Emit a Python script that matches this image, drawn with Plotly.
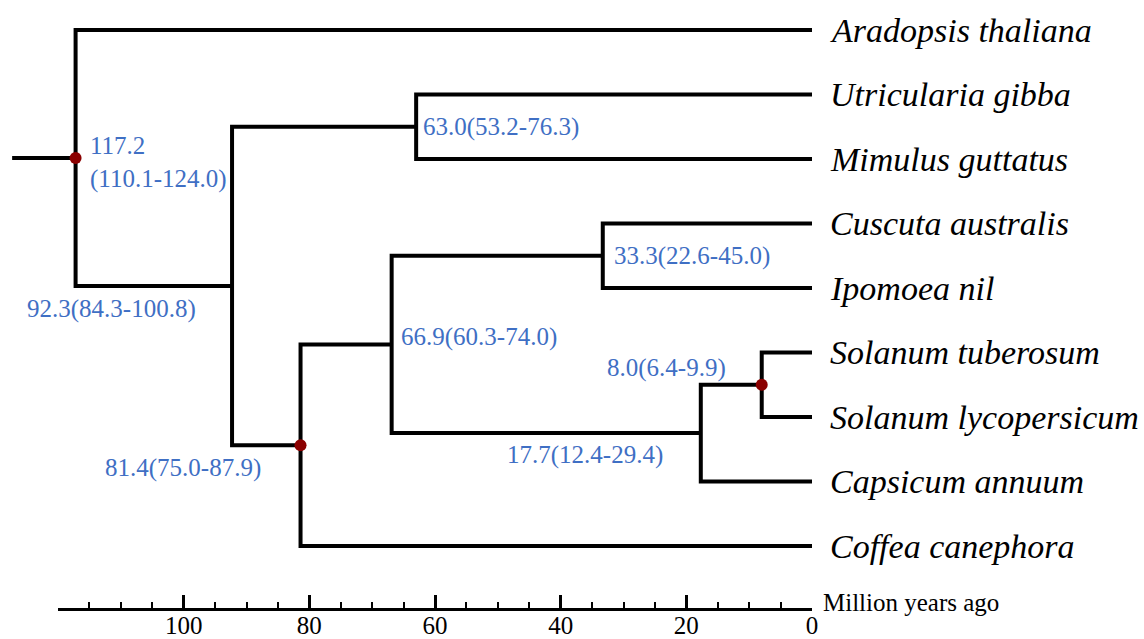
import plotly.graph_objects as go

# ---------------- data ----------------
tip_names = ["Aradopsis thaliana", "Utricularia gibba", "Mimulus guttatus",
             "Cuscuta australis", "Ipomoea nil", "Solanum tuberosum",
             "Solanum lycopersicum", "Capsicum annuum", "Coffea canephora"]

# internal nodes: name -> (age in Myr, children)
node_names = ["root", "n92", "n63", "n81", "n66", "n33", "n17", "n8"]
node_ages = [117.2, 92.3, 63.0, 81.4, 66.9, 33.3, 17.7, 8.0]
node_children = [["Aradopsis thaliana", "n92"],
                 ["n63", "n81"],
                 ["Utricularia gibba", "Mimulus guttatus"],
                 ["n66", "Coffea canephora"],
                 ["n33", "n17"],
                 ["Cuscuta australis", "Ipomoea nil"],
                 ["n8", "Capsicum annuum"],
                 ["Solanum tuberosum", "Solanum lycopersicum"]]
node_labels = ["117.2<br>(110.1-124.0)", "92.3(84.3-100.8)", "63.0(53.2-76.3)",
               "81.4(75.0-87.9)", "66.9(60.3-74.0)", "33.3(22.6-45.0)",
               "17.7(12.4-29.4)", "8.0(6.4-9.9)"]
calibrated_nodes = ["root", "n81", "n8"]
root_stem_age = 127.3

major_ticks = [100, 80, 60, 40, 20, 0]
minor_ticks = [115, 110, 105, 95, 90, 85, 75, 70, 65, 55, 50, 45, 35, 30, 25, 15, 10, 5]
axis_max = 120
axis_title = "Million years ago"

# ---------------- layout helpers (pixel geometry) ----------------
W, H = 1144, 639
px_per_myr = (812 - 58) / axis_max
x0_px = 812            # pixel of age 0
tip_top_px, tip_step_px = 30, 64.5
axis_line_px = 609
SERIF = "Liberation Serif"

# tree coordinates
xy = {}
for i, t in enumerate(tip_names):
    xy[t] = (0.0, float(i))
ages = dict(zip(node_names, node_ages))
children = dict(zip(node_names, node_children))

def pos(n):
    if n in xy:
        return xy[n]
    ys = [pos(c)[1] for c in children[n]]
    xy[n] = (ages[n], sum(ys) / len(ys))
    return xy[n]

for n in node_names:
    pos(n)

lx, ly = [], []
for n in node_names:
    nx, ny = xy[n]
    c1, c2 = children[n]
    (x1, y1), (x2, y2) = xy[c1], xy[c2]
    lx += [x1, nx, nx, x2, None]
    ly += [y1, y1, y2, y2, None]
rx, ry = xy["root"]
lx += [root_stem_age, rx, None]
ly += [ry, ry, None]

fig = go.Figure()
fig.add_trace(go.Scatter(x=lx, y=ly, mode="lines",
                         line=dict(color="black", width=4),
                         hoverinfo="skip", showlegend=False))
fig.add_trace(go.Scatter(x=[xy[n][0] for n in calibrated_nodes],
                         y=[xy[n][1] for n in calibrated_nodes],
                         mode="markers",
                         marker=dict(color="#8B0000", size=12, line=dict(width=0)),
                         hoverinfo="skip", showlegend=False, cliponaxis=False))

# invisible trace to carry the time scale axis
fig.add_trace(go.Scatter(x=major_ticks, y=[None] * len(major_ticks),
                         xaxis="x2", yaxis="y",
                         mode="markers", hoverinfo="skip", showlegend=False))

blue = "#3F6FC4"
lab_font = dict(family=SERIF, size=25, color=blue)
# offsets (pixels) for node labels: (xanchor, xshift, yshift)
label_offsets = {
    "root": ("left", 12, -5),
    "n92": ("right", -34, -23),
    "n63": ("left", 5, 0),
    "n81": ("right", -38, -23),
    "n66": ("left", 7, 7),
    "n33": ("left", 9, 0),
    "n17": ("right", -36, -22),
    "n8": ("right", -34, 17),
}
annotations = []
for n, lab in zip(node_names, node_labels):
    xa, xs, ys = label_offsets[n]
    annotations.append(dict(x=xy[n][0], y=xy[n][1], xref="x", yref="y", text=lab,
                            showarrow=False, xanchor=xa, yanchor="middle",
                            xshift=xs, yshift=ys, align="left", font=lab_font))

tip_font = dict(family=SERIF, size=34, color="black")
for t in tip_names:
    annotations.append(dict(x=xy[t][0], y=xy[t][1], xref="x", yref="y",
                            text="<i>" + t + "</i>", showarrow=False,
                            xanchor="left", yanchor="middle", xshift=16, font=tip_font))

axis_pos = (H - axis_line_px) / H
annotations.append(dict(x=x0_px / W, y=axis_pos, xref="paper", yref="paper", text=axis_title,
                        showarrow=False, xanchor="left", yanchor="middle",
                        xshift=9, yshift=7,
                        font=dict(family=SERIF, size=25, color="black")))

x_left = axis_max + 58 / px_per_myr
x_right = -(W - x0_px) / px_per_myr
y_top = -tip_top_px / tip_step_px
y_bottom = (H - tip_top_px) / tip_step_px

fig.update_layout(
    width=W, height=H,
    margin=dict(l=0, r=0, t=0, b=0, pad=0, autoexpand=False),
    paper_bgcolor="white", plot_bgcolor="rgba(0,0,0,0)",
    font=dict(family=SERIF),
    xaxis=dict(range=[x_left, x_right], visible=False, domain=[0, 1], automargin=False),
    yaxis=dict(range=[y_bottom, y_top], visible=False, domain=[0, 1], automargin=False),
    xaxis2=dict(range=[axis_max, 0], domain=[58 / W, x0_px / W],
                anchor="free", position=axis_pos, side="bottom", automargin=False,
                showline=True, linecolor="black", linewidth=3,
                showgrid=False, zeroline=False,
                tickmode="array", tickvals=major_ticks,
                ticktext=[str(v) for v in major_ticks],
                ticks="inside", ticklen=13, tickwidth=2.5, tickcolor="black",
                ticklabelstandoff=-7,
                tickfont=dict(family=SERIF, size=25, color="black"),
                minor=dict(tickmode="array", tickvals=minor_ticks, ticks="inside",
                           ticklen=6, tickwidth=2, tickcolor="black", showgrid=False)),
    annotations=annotations,
    showlegend=False,
)

fig.write_html("out.html", config={"displayModeBar": False},
               post_script="document.body.style.margin='0';document.body.style.overflow='hidden';")
